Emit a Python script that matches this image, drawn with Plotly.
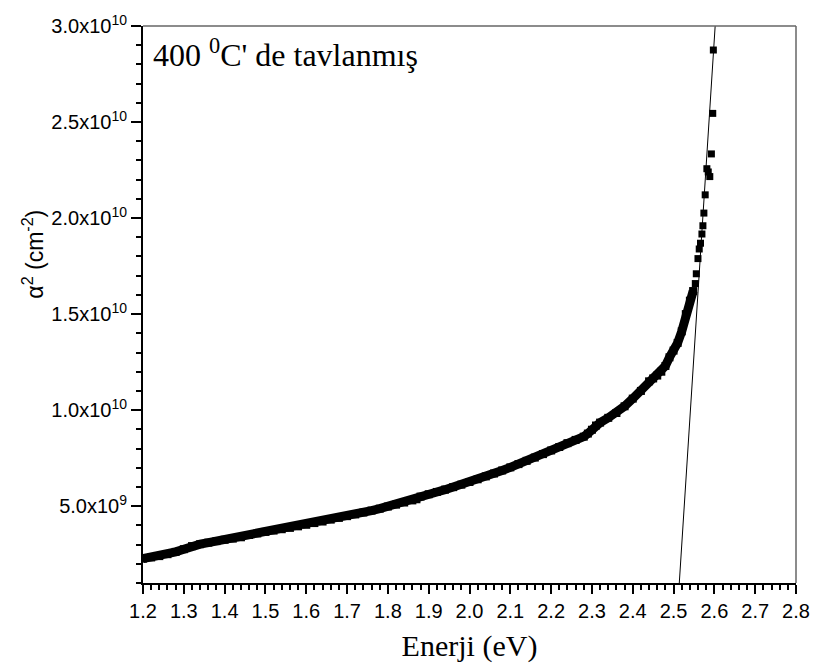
import plotly.graph_objects as go

# Measured data: photon energy (eV) and alpha^2 (cm^-2)
energy = [1.20, 1.22, 1.24, 1.26, 1.28, 1.30, 1.32, 1.34, 1.36, 1.38, 1.40, 1.42, 1.44,
          1.46, 1.48, 1.50, 1.52, 1.54, 1.56, 1.58, 1.60, 1.62, 1.64, 1.66, 1.68, 1.70,
          1.72, 1.74, 1.76, 1.78, 1.80, 1.82, 1.84, 1.86, 1.87, 1.88, 1.90, 1.92, 1.94,
          1.96, 1.98, 2.00, 2.02, 2.04, 2.06, 2.08, 2.10, 2.12, 2.14, 2.16, 2.18, 2.20,
          2.22, 2.24, 2.26, 2.28, 2.29, 2.30, 2.31, 2.32, 2.34, 2.36, 2.38, 2.40, 2.42,
          2.44, 2.45, 2.46, 2.47, 2.48, 2.49, 2.50, 2.51, 2.52, 2.53, 2.54, 2.548,
          2.5533, 2.5557, 2.5598, 2.5629, 2.566, 2.5695, 2.5719, 2.5743, 2.5775, 2.5816,
          2.585, 2.5888, 2.5927, 2.596, 2.5975]
alpha2 = [2.27e9, 2.33e9, 2.40e9, 2.50e9, 2.62e9, 2.76e9, 2.92e9, 3.02e9, 3.10e9, 3.18e9,
          3.25e9, 3.31e9, 3.38e9, 3.50e9, 3.58e9, 3.66e9, 3.73e9, 3.80e9, 3.87e9, 3.95e9,
          4.03e9, 4.12e9, 4.20e9, 4.30e9, 4.39e9, 4.48e9, 4.57e9, 4.67e9, 4.77e9, 4.87e9,
          4.98e9, 5.08e9, 5.19e9, 5.30e9, 5.36e9, 5.50e9, 5.62e9, 5.74e9, 5.86e9, 5.99e9,
          6.12e9, 6.26e9, 6.40e9, 6.55e9, 6.70e9, 6.86e9, 7.02e9, 7.19e9, 7.36e9, 7.53e9,
          7.71e9, 7.90e9, 8.08e9, 8.28e9, 8.45e9, 8.62e9, 8.78e9, 8.98e9, 9.20e9, 9.35e9,
          9.60e9, 9.85e9, 1.020e10, 1.060e10, 1.100e10, 1.150e10, 1.165e10, 1.180e10,
          1.200e10, 1.230e10, 1.275e10, 1.310e10, 1.350e10, 1.410e10, 1.500e10, 1.570e10,
          1.620e10,
          1.659e10, 1.710e10, 1.789e10, 1.839e10, 1.869e10, 1.917e10, 1.960e10, 2.026e10,
          2.121e10, 2.257e10, 2.240e10, 2.216e10, 2.334e10, 2.545e10, 2.875e10]

# Linear fit of the absorption edge: alpha^2 = slope * (E - Eg)
fit_Eg = 2.511
fit_slope = 3.3e11
fit_x = [2.505, 2.62]
fit_y = [fit_slope * (e - fit_Eg) for e in fit_x]

n_dense = energy.index(2.548) + 1

tick_font = dict(family="Liberation Sans, Arial", size=20, color="black")

y_tickvals = [5e9, 1.0e10, 1.5e10, 2.0e10, 2.5e10, 3.0e10]
y_ticktext = ["5.0x10<sup>9</sup>", "1.0x10<sup>10</sup>", "1.5x10<sup>10</sup>",
              "2.0x10<sup>10</sup>", "2.5x10<sup>10</sup>", "3.0x10<sup>10</sup>"]

fig = go.Figure()
fig.add_trace(go.Scatter(x=energy[:n_dense], y=alpha2[:n_dense], mode="lines+markers",
                         line=dict(color="black", width=9),
                         marker=dict(symbol="square", size=8, color="black"),
                         showlegend=False))
fig.add_trace(go.Scatter(x=energy[n_dense - 1:], y=alpha2[n_dense - 1:], mode="markers",
                         marker=dict(symbol="square", size=7, color="black"),
                         showlegend=False))
fig.add_trace(go.Scatter(x=fit_x, y=fit_y, mode="lines",
                         line=dict(color="black", width=1), showlegend=False))

fig.update_layout(
    width=822, height=672,
    margin=dict(l=143, r=18, t=17, b=89),
    paper_bgcolor="white", plot_bgcolor="white",
    xaxis=dict(range=[1.2, 2.8], tickmode="linear", tick0=1.2, dtick=0.1,
               tickformat=".1f", ticks="outside", ticklen=9, tickwidth=1.5,
               tickcolor="black", showline=True, linecolor="black", linewidth=2,
               showgrid=False, zeroline=False, tickfont=tick_font,
               minor=dict(tickmode="linear", tick0=1.2, dtick=0.02, ticks="outside",
                          ticklen=5, tickwidth=1.5, tickcolor="black", showgrid=False),
               title=dict(text="Enerji (eV)",
                          font=dict(family="Liberation Serif, Times New Roman", size=30,
                                    color="black"), standoff=14)),
    yaxis=dict(range=[1e9, 3.0e10], tickmode="array", tickvals=y_tickvals,
               ticktext=y_ticktext, ticks="outside", ticklen=10, tickwidth=1.5,
               tickcolor="black", showline=True, linecolor="black", linewidth=2,
               showgrid=False, zeroline=False, tickfont=tick_font,
               minor=dict(tickmode="linear", tick0=0, dtick=1e9, ticks="outside",
                          ticklen=5, tickwidth=1.5, tickcolor="black", showgrid=False)),
    shapes=[
        dict(type="line", xref="paper", yref="paper", x0=0, x1=1, y0=1, y1=1,
             line=dict(color="#666666", width=1.5)),
        dict(type="line", xref="paper", yref="paper", x0=1, x1=1, y0=0, y1=1,
             line=dict(color="#666666", width=1.5)),
    ],
    annotations=[
        dict(text="400 <sup>0</sup>C' de tavlanmış", xref="paper", yref="paper",
             x=0.012, y=0.952, xanchor="left", yanchor="middle", showarrow=False,
             font=dict(family="Liberation Serif, Times New Roman", size=32, color="black")),
        dict(text="α<sup>2</sup> (cm<sup>-2</sup>)", xref="paper", yref="paper",
             x=-0.168, y=0.59, xanchor="center", yanchor="middle", textangle=-90,
             showarrow=False,
             font=dict(family="Liberation Sans, Arial", size=23, color="black")),
    ],
)

fig.write_html("out.html")
